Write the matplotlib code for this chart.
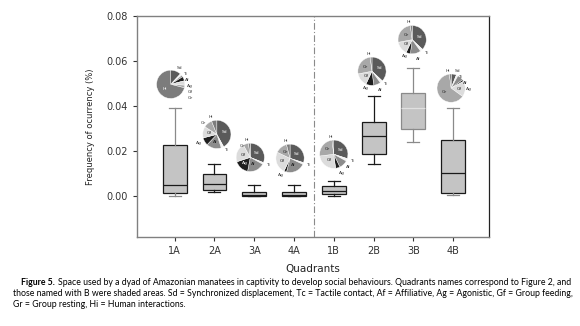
import numpy as np
import matplotlib
matplotlib.use("Agg")
import matplotlib.pyplot as plt

# ---------- data ----------
quadrants = ["1A", "2A", "3A", "4A", "1B", "2B", "3B", "4B"]
whis_lo = [0.0004, 0.0019, 0.0000, 0.0000, 0.0004, 0.0142, 0.0241, 0.0006]
q1      = [0.0013, 0.0027, 0.0001, 0.0001, 0.0009, 0.0187, 0.0298, 0.0016]
medians = [0.0049, 0.0053, 0.0008, 0.0006, 0.0024, 0.0267, 0.0394, 0.0105]
q3      = [0.0227, 0.0098, 0.0021, 0.0018, 0.0046, 0.0332, 0.0460, 0.0250]
whis_hi = [0.0390, 0.0145, 0.0049, 0.0050, 0.0068, 0.0443, 0.0571, 0.0390]

# behaviour shares for the pie above each box (Sd, Tc, Af, Ag, Gf, Gr, Hi)
behaviours = ["Sd", "Tc", "Af", "Ag", "Gf", "Gr", "Hi"]
pie_1A = [12, 2, 2, 5, 5, 3, 71]
pie_2A = [42, 3, 17, 9, 13, 10, 6]
pie_3A = [31, 2, 20, 17, 22, 6, 2]
pie_4A = [30, 2, 22, 3, 25, 14, 4]
pie_1B = [30, 3, 10, 5, 25, 25, 2]
pie_2B = [37, 3, 8, 9, 15, 26, 2]
pie_3B = [37, 3, 12, 5, 15, 26, 2]
pie_4B = [6, 2, 7, 2, 18, 63, 2]
pies = [pie_1A, pie_2A, pie_3A, pie_4A, pie_1B, pie_2B, pie_3B, pie_4B]
# pie centres (x position, y value)
pie_x = [0.9, 2.06, 2.9, 3.9, 5.0, 5.96, 6.97, 7.95]
pie_y = [0.0497, 0.0275, 0.0173, 0.0169, 0.0187, 0.0555, 0.0695, 0.0480]

pie_colors = ["#5a5a5a", "#f2f2f2", "#8c8c8c", "#1e1e1e", "#dcdcdc", "#a8a8a8", "#7c7c7c"]

fig = plt.figure(figsize=(5.8, 3.26), dpi=100)
ax = fig.add_axes([0.236, 0.273, 0.607, 0.678])

positions = np.arange(1, len(quadrants) + 1)
stats = []
for i in range(len(quadrants)):
    stats.append(dict(whislo=whis_lo[i], q1=q1[i], med=medians[i],
                      q3=q3[i], whishi=whis_hi[i], fliers=[]))

bp = ax.bxp(stats, positions=positions, widths=0.6, patch_artist=True,
            showfliers=False, manage_ticks=False)

gray_whisk = [0, 6, 7]
for i, box in enumerate(bp["boxes"]):
    box.set_facecolor("#c4c4c4")
    box.set_edgecolor("#8a8a8a" if i == 6 else "#1a1a1a")
    box.set_linewidth(0.9)
for i, med in enumerate(bp["medians"]):
    med.set_color("#e0e0e0" if i == 6 else "#1a1a1a")
    med.set_linewidth(0.9)
for j, w in enumerate(bp["whiskers"]):
    w.set_color("#8a8a8a" if j // 2 in gray_whisk else "#1a1a1a")
    w.set_linewidth(0.9)
for j, c in enumerate(bp["caps"]):
    c.set_color("#8a8a8a" if j // 2 in gray_whisk else "#1a1a1a")
    c.set_linewidth(0.9)

# separator between A and B quadrants
ax.axvline(4.5, color="#8a8a8a", linestyle=(0, (6, 2, 1, 2)), linewidth=0.8)

ax.set_xlim(0.05, 8.9)
ax.set_ylim(-0.018, 0.08)
ax.set_xticks(positions)
ax.set_xticklabels(quadrants)
ax.set_yticks([0.0, 0.02, 0.04, 0.06, 0.08])
ax.set_yticklabels(["0.00", "0.02", "0.04", "0.06", "0.08"])
ax.tick_params(labelsize=7, colors="#333333", length=3, width=0.8)
for side in ["left", "bottom", "top"]:
    ax.spines[side].set_color("#808080")
    ax.spines[side].set_linewidth(1.0)
ax.spines["right"].set_color("#222222")
ax.spines["right"].set_linewidth(0.9)

ax.set_ylabel("Frequency of ocurrency (%)", fontsize=6, color="#222222", labelpad=8)
ax.set_xlabel("Quadrants", fontsize=7.5, color="#222222", labelpad=6)

# small pies with the behaviour composition
pw = 0.74
ph = 0.0131
min_gap = 0.42   # vertical gap between outside labels, in pie radii
for i, shares in enumerate(pies):
    pa = ax.inset_axes([pie_x[i] - pw / 2, pie_y[i] - ph / 2, pw, ph],
                       transform=ax.transData)
    total = float(sum(shares))
    wedges, texts = pa.pie(shares, colors=pie_colors, startangle=90,
                           counterclock=False,
                           wedgeprops=dict(edgecolor="white", linewidth=0.3),
                           labels=behaviours, labeldistance=1.22,
                           textprops=dict(fontsize=3.2))
    outside = []
    for k, t in enumerate(texts):
        if shares[k] / total > 0.12:
            th = np.deg2rad((wedges[k].theta1 + wedges[k].theta2) / 2)
            t.set_position((0.55 * np.cos(th), 0.55 * np.sin(th)))
            t.set_ha("center")
            t.set_va("center")
            t.set_color("white" if pie_colors[k] in ("#5a5a5a", "#1e1e1e", "#7c7c7c") else "#222222")
        else:
            t.set_color("#333333")
            t.set_va("center")
            outside.append(t)
    # push crowded outside labels apart, separately on each side
    for side in (1, -1):
        grp = [t for t in outside if np.sign(t.get_position()[0]) == side or
               (t.get_position()[0] == 0 and side == 1)]
        grp.sort(key=lambda t: -t.get_position()[1])
        for a in range(1, len(grp)):
            xa, ya = grp[a - 1].get_position()
            xb, yb = grp[a].get_position()
            if abs(xb - xa) < 0.9 and ya - yb < min_gap:
                grp[a].set_position((xb, ya - min_gap))
    pa.set_xlim(-1.04, 1.04)
    pa.set_ylim(-1.04, 1.04)
    pa.set_aspect("equal")

# caption
fs = 6.3
r = fig.canvas.get_renderer()
t0 = fig.text(0.036, 0.126, "Figure 5.", fontsize=fs, fontweight="bold", family="Lato")
bb = t0.get_window_extent(renderer=r)
x_rest = (bb.x1 + 3) / fig.bbox.width
fig.text(x_rest, 0.126, "Space used by a dyad of Amazonian manatees in captivity to develop social behaviours. "
         "Quadrants names correspond to Figure 2, and", fontsize=fs, family="Lato")
fig.text(0.022, 0.092, "those named with B were shaded areas. Sd = Synchronized displacement, Tc = Tactile contact, "
         "Af = Affiliative, Ag = Agonistic, Gf = Group feeding,", fontsize=fs, family="Lato")
fig.text(0.022, 0.058, "Gr = Group resting, Hi = Human interactions.", fontsize=fs, family="Lato")

fig.savefig("out.png", dpi=100)
